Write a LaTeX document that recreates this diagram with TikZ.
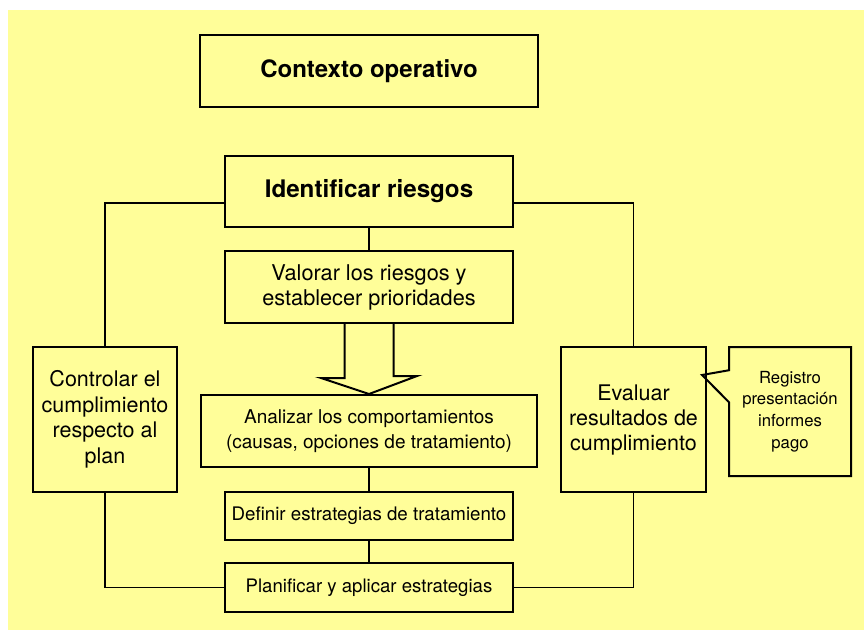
\documentclass[tikz,border=0pt]{standalone}
\usepackage{fontspec}
\setmainfont{TeX Gyre Heros}
\usetikzlibrary{shapes.callouts}
\definecolor{fondo}{HTML}{FFFE99}
\begin{document}
\begin{tikzpicture}[x=1pt,y=-1pt,line width=2pt,
    caja/.style={draw,rectangle,inner sep=0pt,align=center},
    enlace/.style={line width=1.8pt}]
    \useasboundingbox (0,0) rectangle (864,630);
    \fill [fondo] (8,10) rectangle (864,630);
    \node [caja,minimum width=338pt,minimum height=72pt,font=\bfseries\fontsize{24}{28}\selectfont] (contexto) at (369,71) {Contexto operativo};
    \node [caja,minimum width=288pt,minimum height=71pt,font=\bfseries\fontsize{24.2}{28}\selectfont] (identificar) at (369,191.5) {Identificar riesgos};
    \node [caja,minimum width=288pt,minimum height=72pt,font=\fontsize{21.7}{25}\selectfont] (valorar) at (369,287) {Valorar los riesgos y\\establecer prioridades};
    \node [caja,minimum width=336pt,minimum height=72pt,font=\fontsize{19}{25}\selectfont] (analizar) at (369,431) {Analizar los comportamientos\\(causas, opciones de tratamiento)};
    \node [caja,minimum width=288pt,minimum height=48pt,font=\fontsize{18.7}{22}\selectfont] (definir) at (369,516) {Definir estrategias de tratamiento};
    \node [caja,minimum width=288pt,minimum height=49pt,font=\fontsize{18.6}{22}\selectfont] (planificar) at (369,587.5) {Planificar y aplicar estrategias};
    \node [caja,minimum width=144pt,minimum height=145pt,font=\fontsize{21.5}{25.5}\selectfont] (controlar) at (105,419.5) {Controlar el\\cumplimiento\\respecto al\\plan};
    \node [caja,minimum width=145pt,minimum height=145pt,font=\fontsize{21.5}{25}\selectfont] (evaluar) at (633.5,419.5) {Evaluar\\resultados de\\cumplimiento};
    \coordinate (punta) at ([xshift=-5pt,yshift=44.5pt]evaluar.east);
    \node [caja,rectangle callout,callout absolute pointer=(punta),callout pointer width=32pt,minimum width=122pt,minimum height=129pt,font=\fontsize{16.7}{21.7}\selectfont] (registro) at (790,411.5) {Registro\\presentación\\informes\\pago};
    \draw [enlace] (identificar.south) -- (valorar.north);
    \draw [enlace] (analizar.south) -- (definir.north);
    \draw [enlace] (definir.south) -- (planificar.north);
    \draw [enlace] ([yshift=-11.5pt]identificar.west) -| (controlar.north);
    \draw [enlace] ([yshift=-11.5pt]identificar.east) -| (evaluar.north);
    \draw [enlace] (controlar.south) |- (planificar.west);
    \draw [enlace] (evaluar.south) |- (planificar.east);
    \draw [line join=miter] ([xshift=-24.5pt]valorar.south) -- ++(0,54) -- ++(-23.5,0) -- (analizar.north) -- ++(48,-18) -- ++(-23.5,0) -- ([xshift=24.5pt]valorar.south);
\end{tikzpicture}
\end{document}
